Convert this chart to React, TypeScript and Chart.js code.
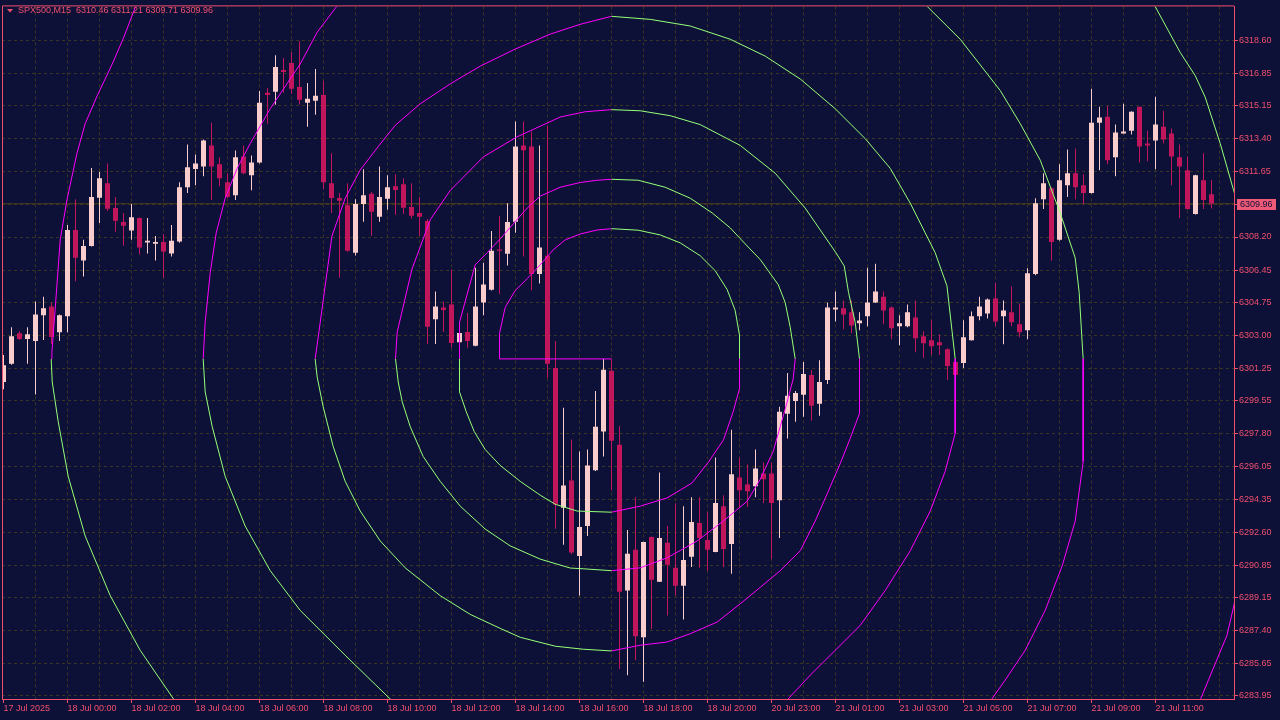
import { useEffect, useRef } from 'react';
import { Chart, registerables } from 'chart.js';

Chart.register(...registerables);

// ---------- data ----------
const symbolName = 'SPX500,M15';

const opens = [
  6300.54, 6301.50, 6303.11, 6302.81, 6302.71, 6304.07, 6304.53, 6303.17, 6304.02, 6308.57,
  6306.96, 6307.73, 6310.27, 6311.04, 6309.73, 6308.99, 6308.54, 6309.20, 6307.91, 6307.85,
  6307.94, 6307.33, 6307.96, 6310.83, 6311.79, 6311.93, 6313.04, 6312.04, 6311.09, 6310.41,
  6312.46, 6311.46, 6312.14, 6315.82, 6315.87, 6317.02, 6317.39, 6316.13, 6315.29, 6315.40,
  6315.71, 6311.04, 6310.26, 6309.88, 6307.37, 6309.94, 6310.48, 6309.27, 6310.22, 6310.88,
  6310.99, 6309.78, 6309.47, 6309.05, 6303.86, 6304.48, 6304.64, 6302.64, 6303.18, 6302.45,
  6304.74, 6305.42, 6307.54, 6307.31, 6309.01, 6313.04, 6312.98, 6306.25, 6307.21, 6301.28,
  6293.89, 6295.34, 6291.35, 6292.93, 6295.87, 6297.92, 6301.14, 6297.23, 6289.52, 6291.67,
  6287.05, 6292.35, 6289.99, 6292.04, 6290.72, 6289.78, 6291.30, 6293.09, 6292.19, 6291.56,
  6293.98, 6291.98, 6295.50, 6295.13, 6295.03, 6295.71, 6295.71, 6294.29, 6298.86, 6299.54,
  6299.86, 6300.91, 6299.39, 6300.65, 6304.37, 6304.43, 6304.22, 6303.64, 6304.01, 6304.74,
  6305.05, 6304.48, 6303.48, 6303.48, 6303.95, 6302.96, 6302.75, 6302.64, 6302.27, 6301.59,
  6301.54, 6302.75, 6304.01, 6304.16, 6304.95, 6304.01, 6304.22, 6303.59, 6303.27, 6306.24,
  6310.20, 6310.78, 6308.05, 6310.94, 6311.57, 6310.94, 6310.52, 6314.24, 6314.56, 6312.41,
  6313.67, 6313.82, 6315.08, 6313.14, 6313.30, 6314.03, 6313.67, 6312.41, 6311.73, 6309.41,
  6311.20, 6310.46,
];

const highs = [
  6301.97, 6303.43, 6303.22, 6303.43, 6304.79, 6305.05, 6304.74, 6304.10, 6308.84, 6310.20,
  6308.05, 6311.84, 6311.63, 6312.09, 6310.32, 6309.47, 6309.94, 6309.23, 6309.20, 6308.26,
  6308.36, 6308.84, 6311.09, 6313.09, 6312.56, 6313.35, 6314.24, 6312.41, 6311.57, 6312.77,
  6313.04, 6312.51, 6315.92, 6316.08, 6317.81, 6317.66, 6317.97, 6318.55, 6316.34, 6317.08,
  6316.45, 6312.62, 6310.52, 6311.04, 6310.20, 6311.78, 6310.58, 6311.93, 6311.46, 6311.51,
  6311.31, 6311.04, 6310.31, 6309.15, 6305.32, 6304.79, 6306.49, 6303.69, 6304.18, 6306.58,
  6306.84, 6308.52, 6309.31, 6309.99, 6314.30, 6314.30, 6313.77, 6313.04, 6314.09, 6302.71,
  6299.18, 6297.50, 6296.87, 6296.97, 6300.06, 6301.76, 6301.76, 6298.23, 6292.72, 6294.45,
  6292.10, 6292.37, 6295.76, 6292.93, 6294.13, 6293.98, 6294.45, 6294.45, 6293.66, 6296.55,
  6294.56, 6298.02, 6296.55, 6296.18, 6296.97, 6296.29, 6296.29, 6299.23, 6301.01, 6300.06,
  6301.59, 6301.17, 6301.69, 6304.74, 6305.32, 6304.84, 6304.84, 6304.22, 6306.58, 6306.79,
  6305.32, 6304.53, 6304.06, 6304.64, 6304.84, 6303.22, 6303.80, 6303.06, 6302.32, 6301.80,
  6303.80, 6304.27, 6305.05, 6304.95, 6305.79, 6304.84, 6305.58, 6304.69, 6306.55, 6310.25,
  6311.57, 6310.83, 6312.04, 6312.83, 6312.88, 6311.51, 6316.03, 6315.08, 6315.13, 6314.14,
  6315.24, 6314.84, 6315.10, 6313.82, 6315.61, 6314.87, 6313.93, 6313.09, 6312.46, 6311.49,
  6312.62, 6311.21,
];

const lows = [
  6300.16, 6301.45, 6302.76, 6301.50, 6299.88, 6302.76, 6302.55, 6302.71, 6303.17, 6305.86,
  6306.12, 6307.70, 6308.94, 6309.58, 6308.48, 6307.74, 6308.06, 6307.28, 6307.33, 6306.96,
  6306.04, 6307.17, 6307.90, 6310.52, 6310.94, 6311.41, 6310.16, 6310.88, 6310.26, 6310.16,
  6311.51, 6310.67, 6312.09, 6314.19, 6315.19, 6315.82, 6315.77, 6315.19, 6314.03, 6314.66,
  6310.73, 6309.47, 6306.05, 6307.42, 6307.22, 6309.01, 6308.27, 6309.01, 6309.64, 6309.38,
  6309.41, 6309.17, 6308.27, 6302.55, 6302.55, 6303.18, 6302.35, 6302.59, 6302.35, 6302.43,
  6304.07, 6305.37, 6305.18, 6306.70, 6308.43, 6307.17, 6305.39, 6305.75, 6300.75, 6292.79,
  6291.94, 6291.44, 6289.26, 6292.40, 6295.84, 6296.60, 6294.82, 6285.37, 6285.05, 6285.84,
  6284.70, 6287.47, 6289.97, 6288.20, 6289.26, 6287.99, 6290.77, 6290.72, 6290.57, 6291.54,
  6290.77, 6290.41, 6293.87, 6293.93, 6294.45, 6294.14, 6291.19, 6292.30, 6297.55, 6298.44,
  6298.70, 6298.49, 6298.76, 6300.44, 6303.74, 6303.32, 6303.11, 6303.27, 6303.48, 6304.72,
  6303.59, 6302.80, 6302.48, 6303.43, 6302.11, 6301.80, 6301.96, 6301.96, 6300.65, 6300.85,
  6301.28, 6302.73, 6303.80, 6303.90, 6303.48, 6302.54, 6303.48, 6302.90, 6302.80, 6306.18,
  6309.68, 6306.94, 6308.00, 6310.31, 6310.20, 6309.94, 6310.50, 6311.73, 6312.04, 6311.41,
  6313.65, 6313.61, 6312.14, 6312.20, 6311.78, 6313.14, 6310.94, 6309.20, 6309.65, 6309.39,
  6309.68, 6309.71,
];

const closes = [
  6301.42, 6302.96, 6302.81, 6303.06, 6304.11, 6304.43, 6302.92, 6304.06, 6308.57, 6307.10,
  6307.73, 6310.31, 6311.31, 6309.69, 6309.06, 6308.80, 6309.25, 6307.64, 6308.00, 6307.94,
  6307.43, 6308.00, 6310.83, 6311.88, 6312.09, 6313.30, 6311.93, 6311.31, 6310.31, 6312.41,
  6311.57, 6312.14, 6315.29, 6315.71, 6317.18, 6316.92, 6316.03, 6315.45, 6315.50, 6315.66,
  6311.09, 6310.26, 6310.11, 6307.48, 6309.94, 6310.41, 6309.53, 6310.31, 6310.83, 6310.69,
  6309.74, 6309.32, 6309.27, 6303.46, 6304.53, 6304.34, 6302.60, 6303.13, 6302.71, 6304.53,
  6305.69, 6307.47, 6307.48, 6308.99, 6312.98, 6312.79, 6306.25, 6307.64, 6301.50, 6294.07,
  6295.07, 6291.53, 6292.88, 6296.13, 6298.18, 6301.19, 6297.44, 6289.46, 6291.47, 6287.10,
  6292.09, 6290.09, 6292.30, 6290.88, 6289.78, 6291.14, 6293.14, 6292.30, 6291.67, 6294.14,
  6291.72, 6295.66, 6294.82, 6294.77, 6295.97, 6295.40, 6294.14, 6298.97, 6299.81, 6299.96,
  6300.96, 6299.28, 6300.54, 6304.48, 6304.48, 6304.11, 6303.53, 6303.79, 6304.74, 6305.32,
  6304.32, 6303.38, 6303.64, 6304.22, 6302.85, 6302.59, 6302.43, 6302.48, 6301.38, 6300.91,
  6302.90, 6304.01, 6304.53, 6304.90, 6303.74, 6304.32, 6303.69, 6303.17, 6306.29, 6309.99,
  6311.04, 6307.94, 6311.20, 6311.57, 6310.83, 6310.52, 6314.24, 6314.51, 6312.25, 6313.72,
  6313.77, 6314.82, 6312.98, 6313.04, 6314.14, 6313.35, 6312.46, 6311.93, 6309.68, 6311.46,
  6310.15, 6309.96,
];

// time labels, one every 8 bars (2 hours of M15 bars)
const timeLabels = [
  '17 Jul 2025', '18 Jul 00:00', '18 Jul 02:00', '18 Jul 04:00', '18 Jul 06:00',
  '18 Jul 08:00', '18 Jul 10:00', '18 Jul 12:00', '18 Jul 14:00', '18 Jul 16:00',
  '18 Jul 18:00', '18 Jul 20:00', '20 Jul 23:00', '21 Jul 01:00', '21 Jul 03:00',
  '21 Jul 05:00', '21 Jul 07:00', '21 Jul 09:00', '21 Jul 11:00',
];

const priceTickValues = [
  6318.60, 6316.85, 6315.15, 6313.40, 6311.65, 6309.90, 6308.20, 6306.45, 6304.75, 6303.00,
  6301.25, 6299.55, 6297.80, 6296.05, 6294.35, 6292.60, 6290.85, 6289.15, 6287.40, 6285.65,
  6283.95,
];
const priceTickLabels = [
  '6318.60', '6316.85', '6315.15', '6313.40', '6311.65', '', '6308.20', '6306.45', '6304.75', '6303.00',
  '6301.25', '6299.55', '6297.80', '6296.05', '6294.35', '6292.60', '6290.85', '6289.15', '6287.40', '6285.65',
  '6283.95',
];

// spiral centre: bar index, price
const spiralCenter = [76, 6301.76];

// spiral path: [bar index, price]
const spiralPath = [
  [76, 6301.76], [62, 6301.76], [62, 6303.11], [62.71, 6304.48], [63.96, 6305.37], [65.46, 6306.00],
  [67.09, 6306.73], [68.71, 6307.52], [70.21, 6308.05], [72.09, 6308.36], [74.21, 6308.57], [76, 6308.64],
  [79.34, 6308.56], [82.09, 6308.31], [84.59, 6307.89], [87.09, 6307.21], [88.96, 6306.42], [90.46, 6305.42],
  [91.46, 6304.32], [92, 6303.01], [92, 6301.76],
  [92, 6300.19], [91.21, 6298.97], [90, 6297.48], [88.09, 6296.29], [86.05, 6295.20], [82.93, 6294.41],
  [79.59, 6293.98], [76, 6293.66],
  [71.71, 6293.72], [68.96, 6294.08], [67.09, 6294.56], [64.59, 6295.29], [62.09, 6296.13], [60.21, 6296.97],
  [58.84, 6297.92], [57.84, 6298.97], [57, 6300.02], [57, 6301.76],
  [57, 6303.69], [58.96, 6306.73], [60.46, 6307.37], [62.09, 6308.10], [63.71, 6308.89], [65.46, 6309.73],
  [67.09, 6310.36], [69.59, 6310.83], [72.09, 6311.08], [74.21, 6311.20], [76, 6311.25],
  [79.34, 6311.20], [82.71, 6310.83], [85.84, 6310.25], [88.59, 6309.47], [90.84, 6308.68], [92.84, 6307.78],
  [94.59, 6307.01], [96.84, 6305.68], [97.71, 6304.74], [98.34, 6303.43], [98.96, 6301.76],
  [98.71, 6300.70], [97.96, 6299.49], [97.09, 6298.18], [96.21, 6296.87], [94.59, 6295.40], [92.96, 6294.24],
  [89.96, 6293.19], [86.71, 6292.14], [82.96, 6291.25], [79.59, 6290.72], [76, 6290.57],
  [72.46, 6290.67], [70.84, 6290.71], [67.09, 6291.18], [63.34, 6291.88], [60.21, 6292.77], [57.09, 6293.98],
  [54.59, 6295.29], [52.46, 6296.60], [50.84, 6298.18], [49.84, 6299.49], [49.34, 6300.54], [49, 6301.76],
  [49.21, 6303.17], [51.05, 6306.49], [53.34, 6309.11], [55.84, 6310.66], [60, 6312.44], [64.18, 6313.49],
  [69.59, 6314.54], [72.71, 6314.82], [76, 6314.93],
  [79.59, 6314.87], [83.34, 6314.61], [87.09, 6314.14], [92.09, 6313.04], [96.46, 6311.57], [100.21, 6309.73],
  [104.05, 6307.37], [105.09, 6306.67], [105.63, 6305.27], [106.46, 6303.69], [107, 6301.76],
  [107, 6298.88], [105.84, 6297.56], [104.59, 6296.23], [103.09, 6294.76], [101.46, 6293.19], [99.59, 6291.62],
  [97.09, 6290.57], [94.59, 6289.69], [92.09, 6288.82], [89.18, 6287.85], [85.84, 6287.24], [82.93, 6286.80],
  [79.59, 6286.63], [76, 6286.33],
  [72.46, 6286.42], [68.96, 6286.58], [64.59, 6287.05], [62.09, 6287.52], [58.34, 6288.26], [54.59, 6289.25],
  [50.21, 6290.72], [47.09, 6292.14], [44.59, 6293.72], [42.71, 6295.29], [41.21, 6297.13], [39.96, 6299.23],
  [39.21, 6300.80], [38.96, 6301.76],
  [39.59, 6303.69], [41.05, 6308.24], [42.71, 6310.25], [44.59, 6311.74], [46.84, 6312.98], [48.96, 6314.10],
  [52.09, 6315.24], [55.84, 6316.29], [59.59, 6317.23], [63.96, 6318.13], [68.34, 6318.92], [72.09, 6319.44],
  [76, 6319.86],
  [80.84, 6319.70], [85.84, 6319.35], [90.84, 6318.65], [95.21, 6317.76], [99.59, 6316.55], [103.96, 6314.98],
  [107.71, 6313.40], [110.84, 6311.83], [113.34, 6309.99], [115.21, 6308.42], [116.46, 6307.37], [117.93, 6305.62],
  [118.96, 6301.76],
  [118.96, 6297.83], [117.71, 6295.82], [115.84, 6293.72], [113.34, 6291.62], [110.21, 6289.52], [107.09, 6287.68],
  [103.96, 6286.36], [100.84, 6285.05], [97.96, 6283.74], [93.34, 6282.43], [87.09, 6281.22], [80.84, 6280.59],
  [76, 6280.49],
  [69.59, 6280.70], [62.09, 6281.38], [55.84, 6282.43], [48.46, 6283.74], [42.71, 6286.10], [37.09, 6288.47],
  [33.34, 6290.57], [30.21, 6292.93], [27.71, 6295.55], [26.09, 6298.18], [25.21, 6300.02], [24.96, 6301.76],
  [25.21, 6303.69], [25.84, 6306.32], [26.59, 6308.42], [27.71, 6310.25], [29.21, 6311.83], [30.84, 6313.14],
  [33.34, 6314.98], [37.09, 6317.34], [39.21, 6319.02], [41.84, 6320.49], [49.59, 6322.85], [57.09, 6324.43],
  [64.59, 6325.74], [70.84, 6326.42], [76, 6326.69],
  [82.09, 6326.53], [89.59, 6325.74], [98.34, 6324.16], [107.09, 6322.33], [115.21, 6320.49], [119.59, 6318.65],
  [124.59, 6315.94], [127.09, 6314.19], [129.59, 6312.26], [132.09, 6309.47], [133.96, 6307.10], [134.46, 6305.27],
  [134.88, 6302.29], [134.96, 6301.76],
  [134.96, 6296.34], [133.96, 6293.19], [132.34, 6290.83], [130.21, 6288.47], [127.71, 6286.36], [125.21, 6284.79],
  [123.46, 6283.74], [118.34, 6281.12], [109.59, 6277.97], [97.09, 6274.82], [87.09, 6273.24], [76, 6272.35],
  [62.09, 6272.98], [49.59, 6274.82], [37.09, 6277.44], [28.34, 6280.33], [21.34, 6283.74], [17.09, 6286.36],
  [13.34, 6289.25], [10.21, 6292.40], [8.09, 6295.55], [6.84, 6298.44], [6.09, 6300.54], [5.96, 6301.76],
  [6.05, 6302.12], [6.46, 6304.39], [7.09, 6308.06], [7.93, 6310.16], [9.18, 6312.62], [10.21, 6314.19],
  [11.71, 6315.66], [13.59, 6317.34], [15.09, 6318.81], [16.46, 6320.33], [20.84, 6323.12], [30.84, 6327.84],
  [49.59, 6332.57], [76, 6335.19],
  [105.84, 6332.04], [130.84, 6325.74], [143.96, 6320.38], [147.09, 6317.95], [148.96, 6316.73], [150.21, 6315.59],
  [152.09, 6313.14], [153.75, 6310.69], [156.46, 6306.84], [157.71, 6301.76],
  [157.34, 6296.87], [155.59, 6292.14], [153.75, 6288.64], [152.93, 6287.15], [149.59, 6283.74], [145.84, 6280.59],
];

// ---------- styles ----------
const BG = '#0e1137';
const AXIS = '#f0506e';
const GRID = '#3a3522';
const PRICE_LINE = '#4b3d1a';
const BULL = '#facdcd';
const BEAR = '#c1165c';
const MAGENTA = '#ff00ff';
const GREEN = '#96ff78';
const FONT = '"Liberation Sans", Arial, sans-serif';

const X_MIN = -0.1875;
const X_MAX = 153.8125;
const Y_MIN = 6283.79;
const Y_MAX = 6320.385;

const n = closes.length;
const last = n - 1;

const gridBars: number[] = [];
for (let b = 0; b <= X_MAX; b += 4) gridBars.push(b);

const labelIndex = (v: number) => (v % 8 === 0 ? v / 8 : -1);

const overlay = {
  id: 'mtOverlay',
  beforeDraw(chart: any) {
    const { ctx, width, height } = chart;
    ctx.save();
    ctx.fillStyle = BG;
    ctx.fillRect(0, 0, width, height);
    ctx.restore();
  },
  afterDraw(chart: any) {
    const { ctx, chartArea, scales } = chart;
    ctx.save();
    // frame (left + top)
    ctx.strokeStyle = AXIS;
    ctx.lineWidth = 1;
    ctx.beginPath();
    ctx.moveTo(chartArea.left + 0.5, chartArea.bottom);
    ctx.lineTo(chartArea.left + 0.5, chartArea.top - 0.5);
    ctx.lineTo(chartArea.right, chartArea.top - 0.5);
    ctx.stroke();

    // header
    ctx.fillStyle = AXIS;
    ctx.beginPath();
    ctx.moveTo(7, 9);
    ctx.lineTo(13, 9);
    ctx.lineTo(10, 12.5);
    ctx.closePath();
    ctx.fill();
    ctx.font = `9px ${FONT}`;
    ctx.textBaseline = 'middle';
    ctx.textAlign = 'left';
    const header = `${symbolName}  ${opens[last].toFixed(2)} ${highs[last].toFixed(2)} ${lows[last].toFixed(2)} ${closes[last].toFixed(2)}`;
    ctx.fillText(header, 18, 11);

    // current price label
    const py = scales.y.getPixelForValue(closes[last]);
    ctx.fillStyle = '#ef5a78';
    ctx.fillRect(chartArea.right + 3, Math.round(py) - 5, 39, 11);
    ctx.fillStyle = BG;
    ctx.fillText(closes[last].toFixed(2), chartArea.right + 6, Math.round(py) + 0.5);
    ctx.restore();
  },
};

export default function App() {
  const ref = useRef<HTMLCanvasElement>(null);

  useEffect(() => {
    document.body.style.margin = '0';
    document.body.style.background = BG;
    Chart.defaults.font.family = FONT;
    Chart.defaults.font.size = 9;

    const wickData = closes.map((_, i) => ({ x: i, y: [lows[i], highs[i]] }));
    const bodyData = closes.map((c, i) => ({ x: i, y: [opens[i], c] }));
    const candleColor = (ctx: any) => {
      const i = ctx.dataIndex;
      return closes[i] >= opens[i] ? BULL : BEAR;
    };
    const spiralData = spiralPath.map(([x, y]) => ({ x, y }));
    const segColor = (ctx: any) => {
      const a = ctx.p0.parsed || ctx.p0.raw;
      const b = ctx.p1.parsed || ctx.p1.raw;
      const mx = (a.x + b.x) / 2;
      const my = (a.y + b.y) / 2;
      const up = my >= spiralCenter[1];
      const left = mx < spiralCenter[0];
      return up === left ? MAGENTA : GREEN;
    };

    const chart = new Chart(ref.current as HTMLCanvasElement, {
      type: 'bar',
      data: {
        datasets: [
          {
            type: 'line',
            data: [
              { x: X_MIN - 1, y: closes[last] },
              { x: X_MAX + 1, y: closes[last] },
            ],
            borderColor: PRICE_LINE,
            borderWidth: 1,
            pointRadius: 0,
            order: 10,
          } as any,
          {
            type: 'bar',
            data: wickData,
            backgroundColor: candleColor,
            barThickness: 1,
            grouped: false,
            borderWidth: 0,
            inflateAmount: 0,
            order: 6,
          } as any,
          {
            type: 'bar',
            data: bodyData,
            backgroundColor: candleColor,
            barThickness: 5,
            minBarLength: 1,
            grouped: false,
            borderWidth: 0,
            inflateAmount: 0,
            order: 5,
          } as any,
          {
            type: 'line',
            data: spiralData,
            borderColor: MAGENTA,
            borderWidth: 1,
            pointRadius: 0,
            tension: 0,
            segment: { borderColor: segColor },
            order: 1,
          } as any,
        ],
      },
      options: {
        responsive: false,
        animation: false,
        events: [],
        layout: { padding: { left: 2, top: 2, right: 0, bottom: 0 } },
        plugins: {
          legend: { display: false },
          tooltip: { enabled: false },
          title: { display: false },
        },
        scales: {
          x: {
            type: 'linear',
            min: X_MIN,
            max: X_MAX,
            offset: false,
            bounds: 'data',
            afterBuildTicks: (s: any) => {
              s.ticks = gridBars.map((v) => ({ value: v }));
            },
            afterFit: (s: any) => {
              s.height = 21;
            },
            grid: {
              offset: false,
              color: (c: any) => (c.tick && c.tick.value === 0 ? 'rgba(0,0,0,0)' : GRID),
              lineWidth: 1,
              drawTicks: true,
              tickLength: 4,
              tickWidth: 1,
              tickBorderDash: [],
              tickColor: (c: any) => {
                const k = c.tick ? labelIndex(c.tick.value) : -1;
                return k >= 0 && k < timeLabels.length ? AXIS : 'rgba(0,0,0,0)';
              },
            },
            border: { display: true, color: AXIS, width: 1, dash: [3, 3] },
            ticks: {
              autoSkip: false,
              maxRotation: 0,
              minRotation: 0,
              align: 'start',
              padding: 0,
              color: AXIS,
              font: { family: FONT, size: 9 },
              callback: (v: any) => {
                const k = labelIndex(Number(v));
                return k >= 0 && k < timeLabels.length ? timeLabels[k] : '';
              },
            },
          },
          y: {
            type: 'linear',
            position: 'right',
            min: Y_MIN,
            max: Y_MAX,
            bounds: 'data',
            afterBuildTicks: (s: any) => {
              s.ticks = priceTickValues.map((v) => ({ value: v }));
            },
            afterFit: (s: any) => {
              s.width = 46;
            },
            grid: {
              color: GRID,
              lineWidth: 1,
              drawTicks: true,
              tickLength: 4,
              tickWidth: 1,
              tickBorderDash: [],
              tickColor: AXIS,
            },
            border: { display: true, color: AXIS, width: 1, dash: [3, 3] },
            ticks: {
              autoSkip: false,
              padding: 1,
              color: AXIS,
              font: { family: FONT, size: 9 },
              callback: (_v: any, i: number) => priceTickLabels[i],
            },
          },
        },
      } as any,
      plugins: [overlay],
    });

    return () => chart.destroy();
  }, []);

  return (
    <div style={{ position: 'absolute', left: 0, top: 0, width: 1280, height: 720 }}>
      <canvas ref={ref} width={1280} height={720} style={{ display: 'block', width: 1280, height: 720 }} />
    </div>
  );
}
